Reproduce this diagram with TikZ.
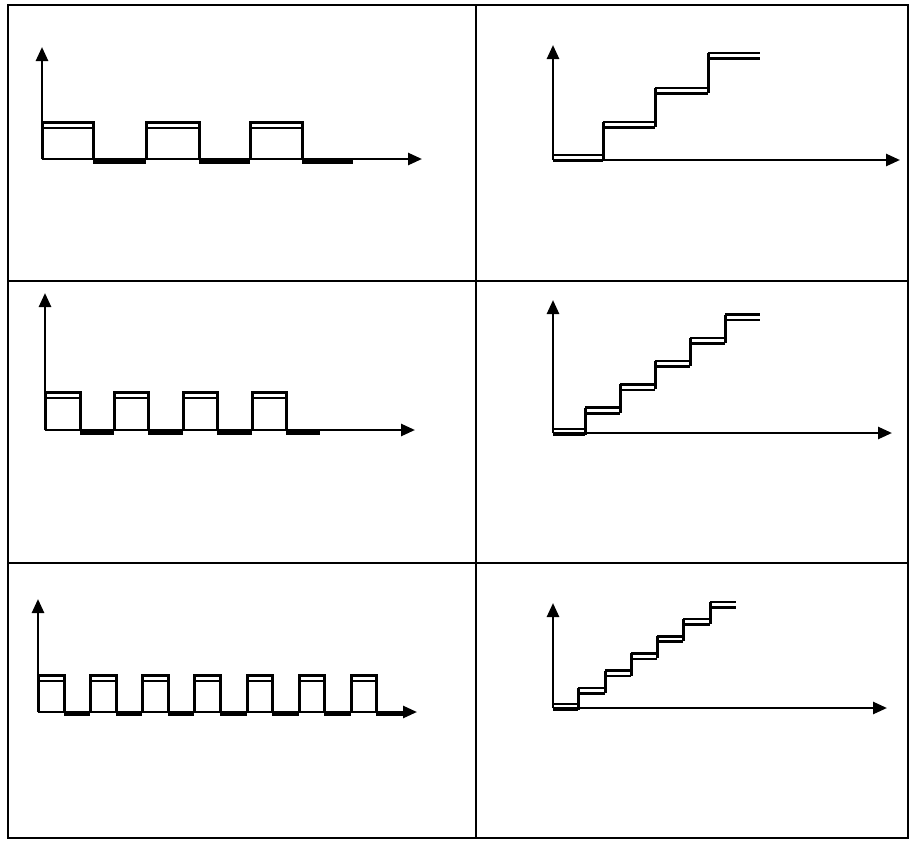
\documentclass[tikz,border=0pt]{standalone}
\usetikzlibrary{arrows.meta}
\tikzset{
  frameline/.style={line width=2.4pt, black},
  axisline/.style={line width=2.6pt, -{Triangle[length=14pt,width=12pt]}},
  wave/.style={line width=3pt, line join=miter},
  lowline/.style={line width=5.5pt},
  hiline/.style={line width=2.6pt},
  treadline/.style={line width=2.6pt},
  riserline/.style={line width=3pt},
}
\newcommand\mytread[3]{\draw[treadline] (#1,#3) -- (#2,#3); \draw[treadline] (#1,{#3+5.5}) -- (#2,{#3+5.5});}
\begin{document}
\begin{tikzpicture}[x=1pt,y=-1pt]
\useasboundingbox (0,0) rectangle (911,844);
\fill[white] (0,0) rectangle (911,844);
% frame
\draw[frameline] (8,5) rectangle (908,838);
\draw[frameline] (476,5) -- (476,838);
\draw[frameline] (8,281) -- (908,281);
\draw[frameline] (8,563) -- (908,563);

% ---------- panel 1 ----------
\coordinate (o1) at (42,159);
\coordinate (y1) at (42,47);
\coordinate (x1) at (422,159);
\draw[axisline] (o1) -- (y1);
\draw[axisline] (o1) -- (x1);
\foreach \a/\b in {42/93,146/199,250/302} {
  \draw[wave] (\a,159) -- (\a,122) -- (\b,122) -- (\b,160);
  \draw[hiline] (\a,128) -- (\b,128);
}
\foreach \a/\b in {93/146,199/250,302/353} \draw[lowline] (\a,161) -- (\b,161);

% ---------- panel 3 ----------
\coordinate (o3) at (45,430);
\coordinate (y3) at (45,293);
\coordinate (x3) at (415,430);
\draw[axisline] (o3) -- (y3);
\draw[axisline] (o3) -- (x3);
\foreach \a/\b in {45/80,114/148,183/217,252/286} {
  \draw[wave] (\a,430) -- (\a,392) -- (\b,392) -- (\b,431);
  \draw[hiline] (\a,398) -- (\b,398);
}
\foreach \a/\b in {80/114,148/183,217/252,286/320} \draw[lowline] (\a,432) -- (\b,432);

% ---------- panel 5 ----------
\coordinate (o5) at (38,712);
\coordinate (y5) at (38,599);
\coordinate (x5) at (417,712);
\draw[axisline] (o5) -- (y5);
\draw[axisline] (o5) -- (x5);
\foreach \a/\b in {38/64,90/116,142/168,194/220,247/272,299/324,351/376} {
  \draw[wave] (\a,712) -- (\a,675) -- (\b,675) -- (\b,713);
  \draw[hiline] (\a,681) -- (\b,681);
}
\foreach \a/\b in {64/90,116/142,168/194,220/247,272/299,324/351,376/404} \draw[lowline] (\a,713.5) -- (\b,713.5);

% ---------- panel 2 ----------
\coordinate (o2) at (553,160);
\coordinate (y2) at (553,45);
\coordinate (x2) at (900,160);
\draw[axisline] (o2) -- (y2);
\draw[axisline] (o2) -- (x2);
\foreach \a/\b/\t in {553/603/155,603/655/122,655/708/88,708/760/53} {\mytread{\a}{\b}{\t}}
\foreach \x/\p/\q in {603/122/160,655/88/127,708/53/93} \draw[riserline] (\x,\p) -- (\x,\q);

% ---------- panel 4 ----------
\coordinate (o4) at (553,433);
\coordinate (y4) at (553,300);
\coordinate (x4) at (892,433);
\draw[axisline] (o4) -- (y4);
\draw[axisline] (o4) -- (x4);
\foreach \a/\b/\t in {553/585/429,585/620/407.7,620/655/384.4,655/690/361.1,690/725/337.8,725/760/314.5} {\mytread{\a}{\b}{\t}}
\foreach \x/\p/\q in {585/407.7/435,620/384.4/412.7,655/361.1/389.4,690/337.8/366.1,725/314.5/342.8} \draw[riserline] (\x,\p) -- (\x,\q);

% ---------- panel 6 ----------
\coordinate (o6) at (553,708);
\coordinate (y6) at (553,603);
\coordinate (x6) at (887,708);
\draw[axisline] (o6) -- (y6);
\draw[axisline] (o6) -- (x6);
\foreach \a/\b/\t in {553/578/704,578/605/687.8,605/631/670.6,631/657/653.4,657/683/636.2,683/710/619,710/736/601.8} {\mytread{\a}{\b}{\t}}
\foreach \x/\p/\q in {578/687.8/710,605/670.6/692.8,631/653.4/675.6,657/636.2/658.4,683/619/641.2,710/601.8/624} \draw[riserline] (\x,\p) -- (\x,\q);
\end{tikzpicture}
\end{document}
